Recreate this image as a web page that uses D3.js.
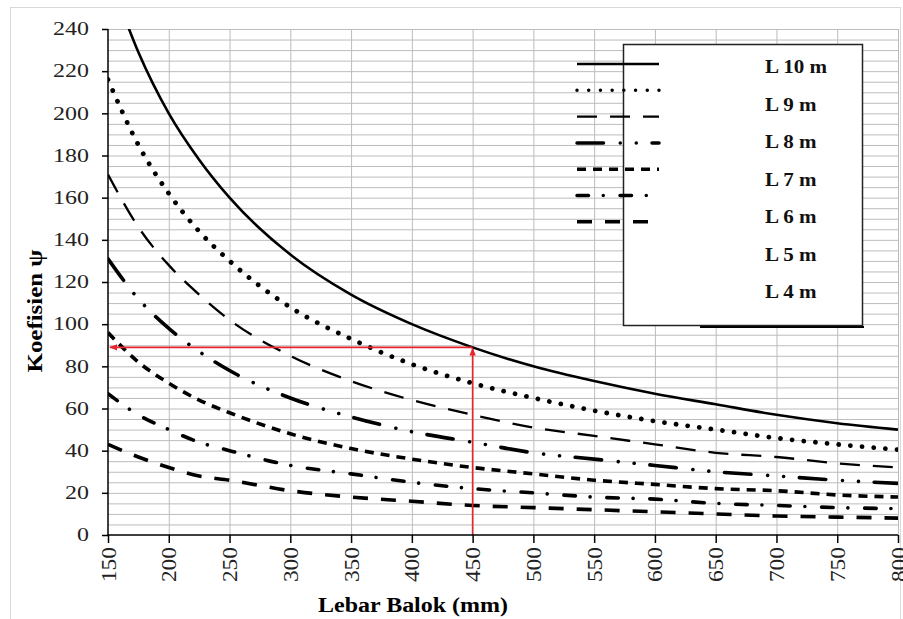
<!DOCTYPE html>
<html>
<head>
<meta charset="utf-8">
<script src="https://cdn.jsdelivr.net/npm/d3@7"></script>
<style>
  body { margin: 0; background: #fff; }
  svg { display: block; }
  .serif { font-family: "Liberation Serif", "Times New Roman", serif; }
</style>
</head>
<body>
<div id="chart"></div>
<script>
const width = 903;
const height = 619;

const plot = { left: 108, right: 898, top: 29, bottom: 535 };

// beam width (mm) where the curves were read
const lebar = [150, 175, 200, 225, 250, 300, 350, 400, 450, 500, 550, 600, 650, 700, 750, 800];

// psi values, one array per span
const psiL10 = [267, 229, 200, 178, 160, 133, 114, 100, 89, 80, 73, 67, 62, 57, 53, 50];
const psiL9 = [216, 185, 162, 144, 130, 108, 93, 81, 72, 65, 59, 54, 50, 46, 43, 40.5];
const psiL8 = [171, 146, 128, 114, 102, 85, 73, 64, 57, 51, 47, 43, 39, 37, 34, 32];
const psiL7 = [131, 112, 98, 87, 78, 65, 56, 49, 44, 39, 36, 33, 30, 28, 26, 24.5];
const psiL6 = [96, 82, 72, 64, 58, 48, 41, 36, 32, 29, 26, 24, 22, 21, 19, 18];
const psiL5 = [67, 57, 50, 44, 40, 33, 29, 25, 22, 20, 18, 17, 15, 14, 13, 12.5];
const psiL4 = [43, 37, 32, 28, 26, 21, 18, 16, 14, 13, 12, 11, 10, 9, 8.5, 8];

const spanNames = ["L 10 m", "L 9 m", "L 8 m", "L 7 m", "L 6 m", "L 5 m", "L 4 m"];
const xTicks = d3.range(150, 801, 50);
const yTicks = d3.range(0, 241, 20);

// example read-off shown with the red arrows
const readOff = [450, 89];

const allSeries = [psiL10, psiL9, psiL8, psiL7, psiL6, psiL5, psiL4].map((vals, i) => ({
  name: spanNames[i],
  points: vals.map((v, j) => ({ x: lebar[j], y: v })),
}));

// line looks, same order as the spans
const lineStyles = [
  { w: 2.6, dash: null, cap: "butt" },
  { w: 4.8, dash: "0.01 11.7", cap: "round" },
  { w: 2.3, dash: "20 13", cap: "butt" },
  { w: 3.6, dash: "26.5 16.75 0.01 16 0.01 15.75", cap: "round" },
  { w: 3.6, dash: "9 7", cap: "butt" },
  { w: 3.6, dash: "11.5 14.75 0.01 16.75", cap: "round" },
  { w: 3.6, dash: "15 13", cap: "butt" },
];

// stretch text horizontally like the original (it is wider than plain Times)
function stretch(sel, k) {
  sel.each(function () {
    const natural = this.getComputedTextLength();
    d3.select(this)
      .attr("textLength", natural * k)
      .attr("lengthAdjust", "spacingAndGlyphs");
  });
}

const svg = d3
  .select("#chart")
  .append("svg")
  .attr("width", width)
  .attr("height", height);

// outer chart frame
svg.append("rect")
  .attr("x", 10.5).attr("y", 7.5)
  .attr("width", 890).attr("height", 640)
  .attr("fill", "#fff")
  .attr("stroke", "#d9d9d9");

const xScale = d3.scaleLinear().domain([150, 800]).range([plot.left, plot.right]);
const yScale = d3.scaleLinear().domain([0, 240]).range([plot.bottom, plot.top]);

// gridlines: every 5 horizontally, every 50 vertically
svg.append("g")
  .attr("transform", `translate(${plot.left},0)`)
  .call(d3.axisLeft(yScale).tickValues(d3.range(5, 241, 5)).tickFormat("").tickSize(-(plot.right - plot.left)))
  .call((g) => g.select(".domain").remove())
  .selectAll("line").attr("stroke", "#bcbcbc");

svg.append("g")
  .attr("transform", `translate(0,${plot.bottom})`)
  .call(d3.axisBottom(xScale).tickValues(xTicks.slice(1)).tickFormat("").tickSize(-(plot.bottom - plot.top)))
  .call((g) => g.select(".domain").remove())
  .selectAll("line").attr("stroke", "#bcbcbc");

// curves
svg.append("clipPath").attr("id", "clip")
  .append("rect")
  .attr("x", plot.left).attr("y", plot.top)
  .attr("width", plot.right - plot.left).attr("height", plot.bottom - plot.top);

const line = d3.line()
  .x((d) => xScale(d.x))
  .y((d) => yScale(d.y))
  .curve(d3.curveMonotoneX);

svg.append("g")
  .attr("clip-path", "url(#clip)")
  .selectAll("path")
  .data(allSeries)
  .join("path")
  .attr("d", (d) => line(d.points))
  .attr("fill", "none")
  .attr("stroke", "#000")
  .attr("stroke-width", (d, i) => lineStyles[i].w)
  .attr("stroke-dasharray", (d, i) => lineStyles[i].dash)
  .attr("stroke-linecap", (d, i) => lineStyles[i].cap);

// red read-off arrows
const red = "#e8242c";
svg.append("defs").append("marker")
  .attr("id", "arrow")
  .attr("viewBox", "0 0 10 10")
  .attr("refX", 9).attr("refY", 5)
  .attr("markerWidth", 5).attr("markerHeight", 5)
  .attr("orient", "auto")
  .append("path")
  .attr("d", "M0,1L10,5L0,9Z")
  .attr("fill", red);

svg.append("line")
  .attr("x1", xScale(readOff[0])).attr("y1", yScale(readOff[1]))
  .attr("x2", xScale(150) + 2).attr("y2", yScale(readOff[1]))
  .attr("stroke", red).attr("stroke-width", 1.6)
  .attr("marker-end", "url(#arrow)");

svg.append("line")
  .attr("x1", xScale(readOff[0])).attr("y1", yScale(0))
  .attr("x2", xScale(readOff[0])).attr("y2", yScale(readOff[1]) + 1)
  .attr("stroke", red).attr("stroke-width", 1.6)
  .attr("marker-end", "url(#arrow)");

// axes
const yAxis = svg.append("g")
  .attr("transform", `translate(${plot.left},0)`)
  .call(d3.axisLeft(yScale).tickValues(yTicks).tickSize(6).tickPadding(13));
yAxis.selectAll("text")
  .attr("class", "serif")
  .attr("font-size", 18)
  .attr("fill", "#222")
  .call(stretch, 1.33);

const xAxis = svg.append("g")
  .attr("transform", `translate(0,${plot.bottom})`)
  .call(d3.axisBottom(xScale).tickValues(xTicks).tickSize(8));
xAxis.selectAll("text")
  .attr("class", "serif")
  .attr("font-size", 20)
  .attr("fill", "#222")
  .attr("transform", "rotate(-90)")
  .attr("text-anchor", "end")
  .attr("x", -12)
  .attr("y", 0)
  .attr("dy", "0.35em")
  .call(stretch, 1.17);

[yAxis, xAxis].forEach((g) => {
  g.selectAll(".domain, line").attr("stroke", "#000").attr("stroke-width", 1.5);
  g.select(".domain").attr("d", g === yAxis
    ? `M0,${plot.bottom}V${plot.top}`
    : `M${plot.left},0H${plot.right}`);
});

// axis titles
svg.append("text")
  .attr("class", "serif")
  .attr("transform", "translate(42,311) rotate(-90)")
  .attr("text-anchor", "middle")
  .attr("font-size", 20)
  .attr("font-weight", "bold")
  .attr("textLength", 123)
  .attr("lengthAdjust", "spacingAndGlyphs")
  .text("Koefisien ψ");

svg.append("text")
  .attr("class", "serif")
  .attr("x", 413).attr("y", 612)
  .attr("text-anchor", "middle")
  .attr("font-size", 20)
  .attr("font-weight", "bold")
  .attr("textLength", 190)
  .attr("lengthAdjust", "spacingAndGlyphs")
  .text("Lebar Balok (mm)");

// legend box (samples sit a bit left of and above their labels, as in the original)
const legend = svg.append("g");
legend.append("line")
  .attr("x1", 700).attr("x2", 864).attr("y1", 327).attr("y2", 327)
  .attr("stroke", "#000").attr("stroke-width", 2);
legend.append("rect")
  .attr("x", 623.5).attr("y", 44.5)
  .attr("width", 239).attr("height", 281)
  .attr("fill", "#fff")
  .attr("stroke", "#222").attr("stroke-width", 1.5);

legend.selectAll("line.sample")
  .data(allSeries)
  .join("line")
  .attr("class", "sample")
  .attr("x1", 577).attr("x2", 659)
  .attr("y1", (d, i) => 64 + i * 26.3)
  .attr("y2", (d, i) => 64 + i * 26.3)
  .attr("stroke", "#000")
  .attr("stroke-width", (d, i) => Math.min(lineStyles[i].w, 3.5))
  .attr("stroke-dasharray", (d, i) => lineStyles[i].dash)
  .attr("stroke-linecap", (d, i) => lineStyles[i].cap);

legend.selectAll("text")
  .data(allSeries)
  .join("text")
  .attr("class", "serif")
  .attr("x", 765)
  .attr("y", (d, i) => 73 + i * 37.5)
  .attr("font-size", 18)
  .attr("font-weight", "bold")
  .attr("fill", "#111")
  .text((d) => d.name)
  .call(stretch, 1.17);
</script>
</body>
</html>
